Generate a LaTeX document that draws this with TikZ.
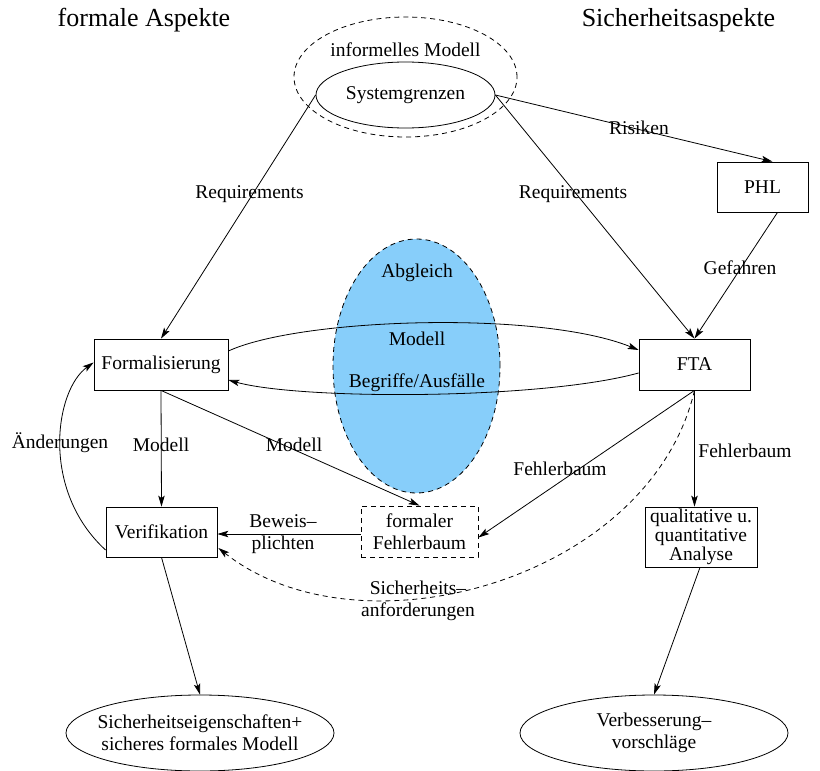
\documentclass[tikz,border=0pt]{standalone}
\usepackage{fontspec}
\setmainfont{Liberation Serif}
\usetikzlibrary{shapes.geometric,arrows.meta,calc}
\definecolor{abgl}{HTML}{87CEFA}
\begin{document}
\begin{tikzpicture}[x=1pt,y=-1pt,
  box/.style={draw, rectangle, inner sep=0pt, line width=0.8pt, align=center, font=\fontsize{19.5}{19}\selectfont},
  ell/.style={draw, ellipse, inner sep=0pt, line width=0.8pt},
  txt/.style={inner sep=0pt, align=center, font=\fontsize{19.5}{22}\selectfont},
  ttl/.style={inner sep=0pt, font=\fontsize{26}{30}\selectfont},
  arr/.style={-{Stealth[length=11pt,width=6.5pt,inset=2.5pt]}, line width=0.8pt},
  dsh/.style={dash pattern=on 5pt off 4pt}]
\useasboundingbox (0,0) rectangle (820,771);

% titles
\node[ttl] (t1) at (144,20) {formale Aspekte};
\node[ttl] (t2) at (678.5,20) {Sicherheitsaspekte};

% informal model
\node[ell, dsh, minimum width=223pt, minimum height=120pt] (inf) at (405.5,77) {};
\node[txt] (inft) at (405.5,50) {informelles Modell};
\node[ell, minimum width=179pt, minimum height=66pt] (sys) at (405.5,95) {};
\node[txt] (syst) at (405.5,95) {Systemgrenzen};

% Abgleich
\node[ell, dsh, fill=abgl, minimum width=167pt, minimum height=254pt] (abg) at (416.5,366) {};

% boxes
\node[box, minimum width=91pt, minimum height=50pt] (phl) at (762.5,187) {PHL};
\node[box, minimum width=134pt, minimum height=51pt] (form) at (161,364.5) {Formalisierung};
\node[box, minimum width=111pt, minimum height=51pt] (fta) at (694.5,364.5) {FTA};
\node[box, minimum width=111pt, minimum height=50pt] (ver) at (161.5,532) {Verifikation};
\node[box, dsh, minimum width=117pt, minimum height=51pt, font=\fontsize{19.5}{22}\selectfont] (ffb) at (419.5,531.5) {formaler\\Fehlerbaum};
\node[box, minimum width=112pt, minimum height=60pt] (qa) at (701,537) {qualitative u.\\quantitative\\Analyse};

% results
\node[ell, minimum width=268pt, minimum height=76pt] (res1) at (200,733) {};
\node[txt] (res1t) at (200,733) {Sicherheitseigenschaften+\\sicheres formales Modell};
\node[ell, minimum width=268pt, minimum height=76pt] (res2) at (654,733) {};
\node[txt] (res2t) at (654,733) {Verbesserung–\\vorschläge};

% connectors
\draw[arr] (sys.west) -- (form.north);
\draw[arr] (sys.east) -- (fta.north);
\draw[arr] (sys.east) -- ($(phl.north)+(10,0)$);
\draw[arr] ($(phl.south)+(15,0)$) -- (fta.north);
\draw[arr] ($(form.east)+(0,-13.5)$) .. controls (300,318) and (540,310) .. ($(fta.west)+(0,-14.5)$);
\draw[arr] ($(fta.west)+(0,8.5)$) .. controls (540,400) and (300,400) .. ($(form.east)+(0,15.5)$);
\draw[arr] (form.south) -- (ver.north);
\draw[arr] (form.south) -- (ffb.north);
\draw[arr] (fta.south) -- ($(ffb.east)+(0,6)$);
\draw[arr] (fta.south) -- (fta.south |- qa.north);
\draw[arr] ($(ffb.west)+(0,2.5)$) -- ($(ver.east)+(0,2)$);
\draw[arr, dsh] (fta.south) .. controls (650,580) and (360,660) .. ($(ver.east)+(1,16)$);
\draw[arr] ($(ver.west)+(0,18)$) .. controls (40,490) and (55,390) .. ($(form.west)+(0,-2)$);
\draw[arr] (ver.south) -- (res1.north);
\draw[arr] ($(qa.south)+(-1,0)$) -- (res2.north);

% labels
\node[txt] (l1) at (249.5,194) {Requirements};
\node[txt] (l2) at (573,194) {Requirements};
\node[txt] (l3) at (639,128) {Risiken};
\node[txt] (l4) at (740,268) {Gefahren};
\node[txt] (l5) at (417,273) {Abgleich};
\node[txt] (l6) at (417,339) {Modell};
\node[txt] (l7) at (417,383) {Begriffe/Ausfälle};
\node[txt] (l8) at (60,443) {Änderungen};
\node[txt] (l9) at (161,445) {Modell};
\node[txt] (l10) at (294,445) {Modell};
\node[txt] (l11) at (560,469) {Fehlerbaum};
\node[txt] (l12) at (745,451) {Fehlerbaum};
\node[txt] (l13) at (283,534) {Beweis–\\plichten};
\node[txt] (l14) at (418,601) {Sicherheits–\\anforderungen};
\end{tikzpicture}
\end{document}
